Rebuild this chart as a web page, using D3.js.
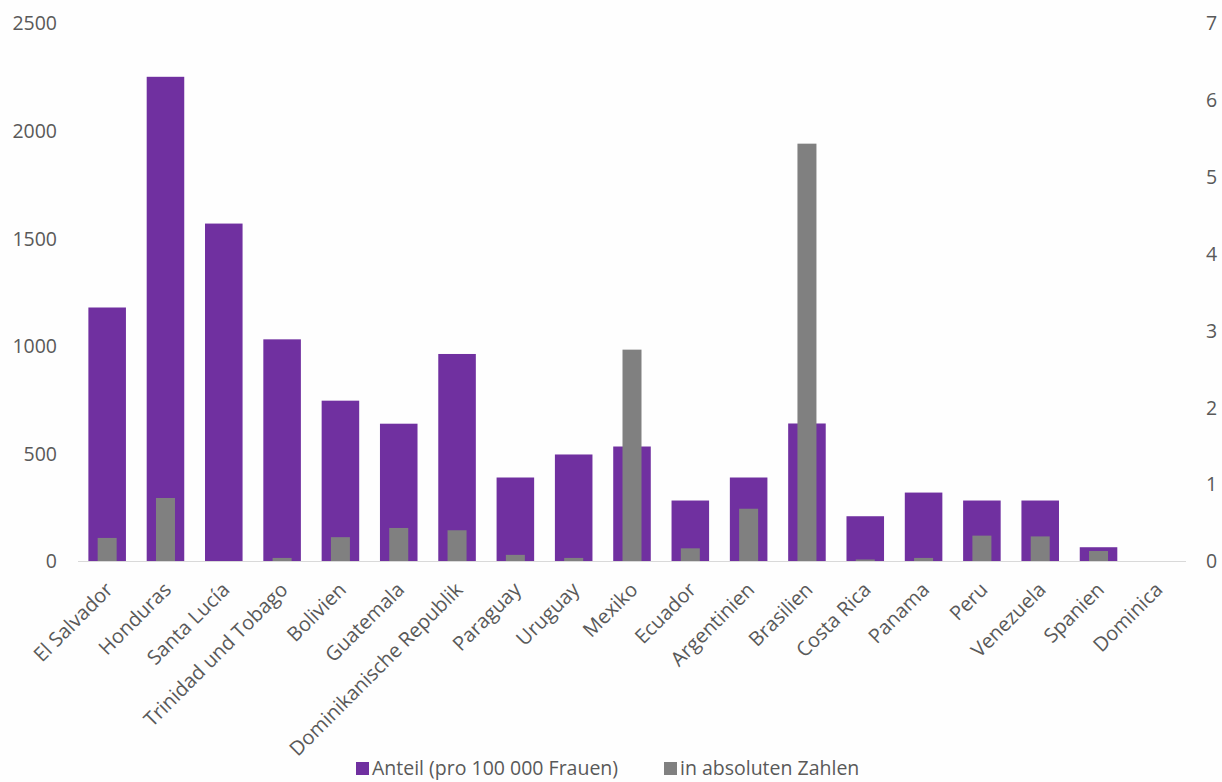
<!DOCTYPE html>
<html>
<head>
<meta charset="utf-8">
<script src="https://cdn.jsdelivr.net/npm/d3@7"></script>
<style>
  html, body { margin: 0; padding: 0; background: #fefefe; }
  svg { display: block; }
  text { font-family: "Open Sans", "Lato", sans-serif; fill: #595959; }
</style>
</head>
<body>
<svg id="chart" width="1222" height="782"></svg>
<script>
const categories = ["El Salvador", "Honduras", "Santa Lucía", "Trinidad und Tobago", "Bolivien", "Guatemala",
  "Dominikanische Republik", "Paraguay", "Uruguay", "Mexiko", "Ecuador", "Argentinien", "Brasilien",
  "Costa Rica", "Panama", "Peru", "Venezuela", "Spanien", "Dominica"];
const anteil = [1178, 2250, 1568, 1030, 745, 638, 962, 388, 495, 532, 281, 388, 639, 208, 318, 281, 281, 64, 0];
const absolut = [0.30, 0.82, 0, 0.04, 0.31, 0.43, 0.40, 0.08, 0.04, 2.75, 0.165, 0.68, 5.43, 0.02, 0.04, 0.33, 0.32, 0.13, 0];
const leftTicks = [0, 500, 1000, 1500, 2000, 2500];
const rightTicks = [0, 1, 2, 3, 4, 5, 6, 7];
const seriesNames = ["Anteil (pro 100 000 Frauen)", "in absoluten Zahlen"];
const colors = ["#7030A0", "#808080"];

const svg = d3.select("#chart");
const pLeft = 78, pRight = 1186, pTop = 23, pBottom = 561;
const fs = "19.5px";

const x = d3.scaleBand().domain(categories).range([pLeft, pRight]).paddingInner(0.356).paddingOuter(0.178);
const yL = d3.scaleLinear().domain([0, 2500]).range([pBottom, pTop]);
const yR = d3.scaleLinear().domain([0, 7]).range([pBottom, pTop]);

// purple bars
svg.append("g").selectAll("rect").data(categories).join("rect")
  .attr("x", d => x(d))
  .attr("width", x.bandwidth())
  .attr("y", (d, i) => yL(anteil[i]))
  .attr("height", (d, i) => pBottom - yL(anteil[i]))
  .attr("fill", colors[0]);

// gray bars
const gw = 19;
svg.append("g").selectAll("rect").data(categories).join("rect")
  .attr("x", d => x(d) + x.bandwidth() / 2 - gw / 2)
  .attr("width", gw)
  .attr("y", (d, i) => yR(absolut[i]))
  .attr("height", (d, i) => pBottom - yR(absolut[i]))
  .attr("fill", colors[1]);

// baseline
svg.append("line").attr("x1", pLeft).attr("x2", pRight).attr("y1", pBottom + 0.5).attr("y2", pBottom + 0.5)
  .attr("stroke", "#d9d9d9").attr("stroke-width", 1);

// left axis
const axL = d3.axisLeft(yL).tickValues(leftTicks).tickSize(0).tickPadding(0).tickFormat(d3.format("d"));
const gL = svg.append("g").attr("transform", "translate(57,0)").call(axL);
gL.select(".domain").remove();
gL.selectAll("text").style("font-size", fs).attr("fill", "#595959").attr("dy", "0.35em");

// right axis
const axR = d3.axisRight(yR).tickValues(rightTicks).tickSize(0).tickPadding(0).tickFormat(d3.format("d"));
const gR = svg.append("g").attr("transform", "translate(1206,0)").call(axR);
gR.select(".domain").remove();
gR.selectAll("text").style("font-size", fs).attr("fill", "#595959").attr("dy", "0.35em");

// x axis labels
const axX = d3.axisBottom(x).tickSize(0).tickPadding(0);
const gX = svg.append("g").attr("transform", `translate(0,${pBottom})`).call(axX);
gX.select(".domain").remove();
gX.selectAll("text")
  .style("font-size", "20px").attr("fill", "#595959")
  .attr("text-anchor", "end")
  .attr("x", 0).attr("y", 0).attr("dy", "0.35em")
  .attr("transform", "translate(2,25) rotate(-45)");

// legend
const legend = svg.append("g");
const items = [{x: 356}, {x: 664}];
seriesNames.forEach((name, i) => {
  legend.append("rect").attr("x", items[i].x).attr("y", 762).attr("width", 13).attr("height", 13).attr("fill", colors[i]);
  legend.append("text").attr("x", items[i].x + 16).attr("y", 768).attr("dy", "0.35em")
    .style("font-size", fs).text(name);
});
</script>
</body>
</html>
